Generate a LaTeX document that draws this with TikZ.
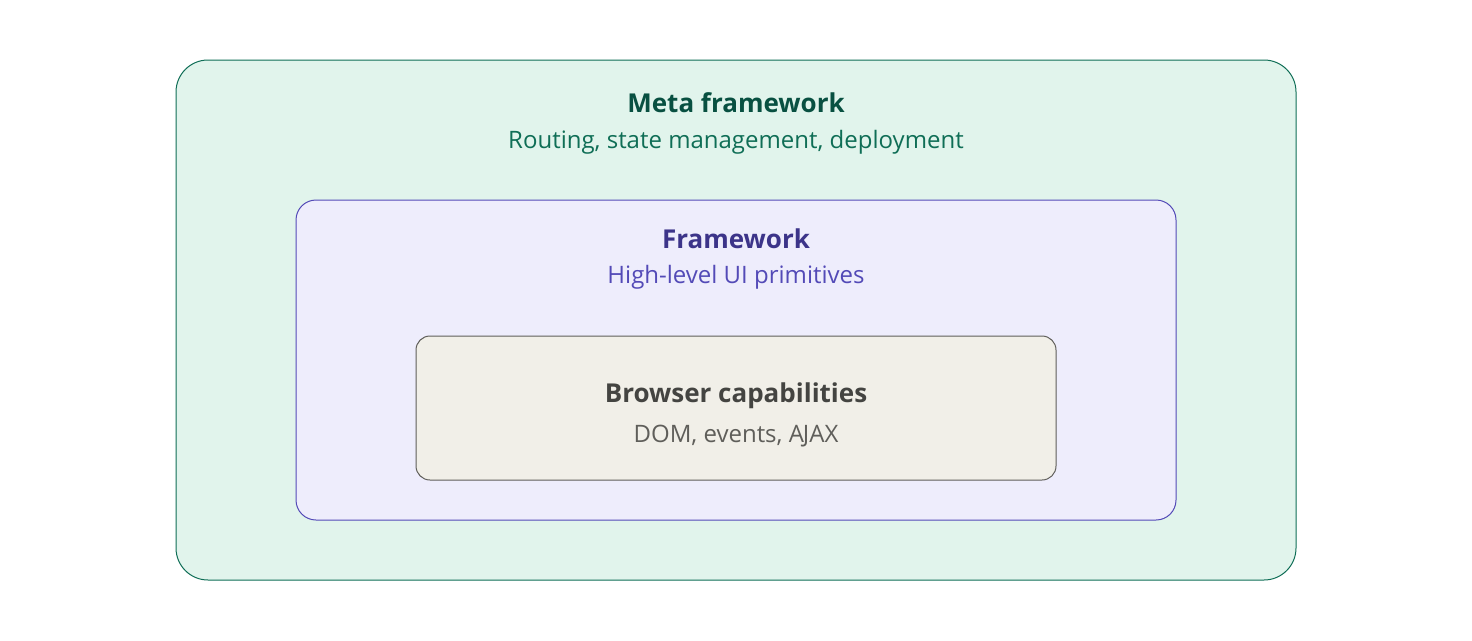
\documentclass[tikz,border=0pt]{standalone}
\usepackage{fontspec}
\setmainfont{Open Sans}
\usetikzlibrary{positioning}
\definecolor{metafill}{HTML}{E1F4EC}
\definecolor{metaline}{HTML}{0F6E56}
\definecolor{metattl}{HTML}{085041}
\definecolor{metasub}{HTML}{0F6E56}
\definecolor{fwfill}{HTML}{EEEDFC}
\definecolor{fwline}{HTML}{534AB7}
\definecolor{fwttl}{HTML}{3C3489}
\definecolor{fwsub}{HTML}{534AB7}
\definecolor{brfill}{HTML}{F1EFE8}
\definecolor{brline}{HTML}{5F5E5A}
\definecolor{brttl}{HTML}{444441}
\definecolor{brsub}{HTML}{5F5E5A}
\tikzset{
  layer/.style={line width=1pt,inner sep=0pt},
  ttl/.style={anchor=base,inner sep=0pt,
    font=\fontsize{26}{31}\selectfont\bfseries},
  sub/.style={anchor=base,inner sep=0pt,
    font=\fontsize{24}{29}\selectfont}
}

\begin{document}
\begin{tikzpicture}[x=1pt,y=-1pt]
  \useasboundingbox (0,0) rectangle (1472,640);
  % nested layers
  \node[layer,draw=metaline,fill=metafill,rounded corners=32pt,
    minimum width=1120pt,minimum height=520pt] (meta) at (736,320) {};
  \node[layer,draw=fwline,fill=fwfill,rounded corners=20pt,
    minimum width=880pt,minimum height=320pt] (fw) at (736,360) {};
  \node[layer,draw=brline,fill=brfill,rounded corners=14pt,
    minimum width=640pt,minimum height=144pt] (br) at (736,408) {};
  % labels
  \node[ttl,text=metattl] (metaname) at (736,112) {Meta framework};
  \node[sub,text=metasub] (metadesc) at (736,148) {Routing, state management, deployment};
  \node[ttl,text=fwttl] (fwname) at (736,248) {Framework};
  \node[sub,text=fwsub] (fwdesc) at (736,283) {High-level UI primitives};
  \node[ttl,text=brttl] (brname) at (736,402) {Browser capabilities};
  \node[sub,text=brsub] (brdesc) at (736,442) {DOM, events, A\kern-1ptJAX};
\end{tikzpicture}
\end{document}
